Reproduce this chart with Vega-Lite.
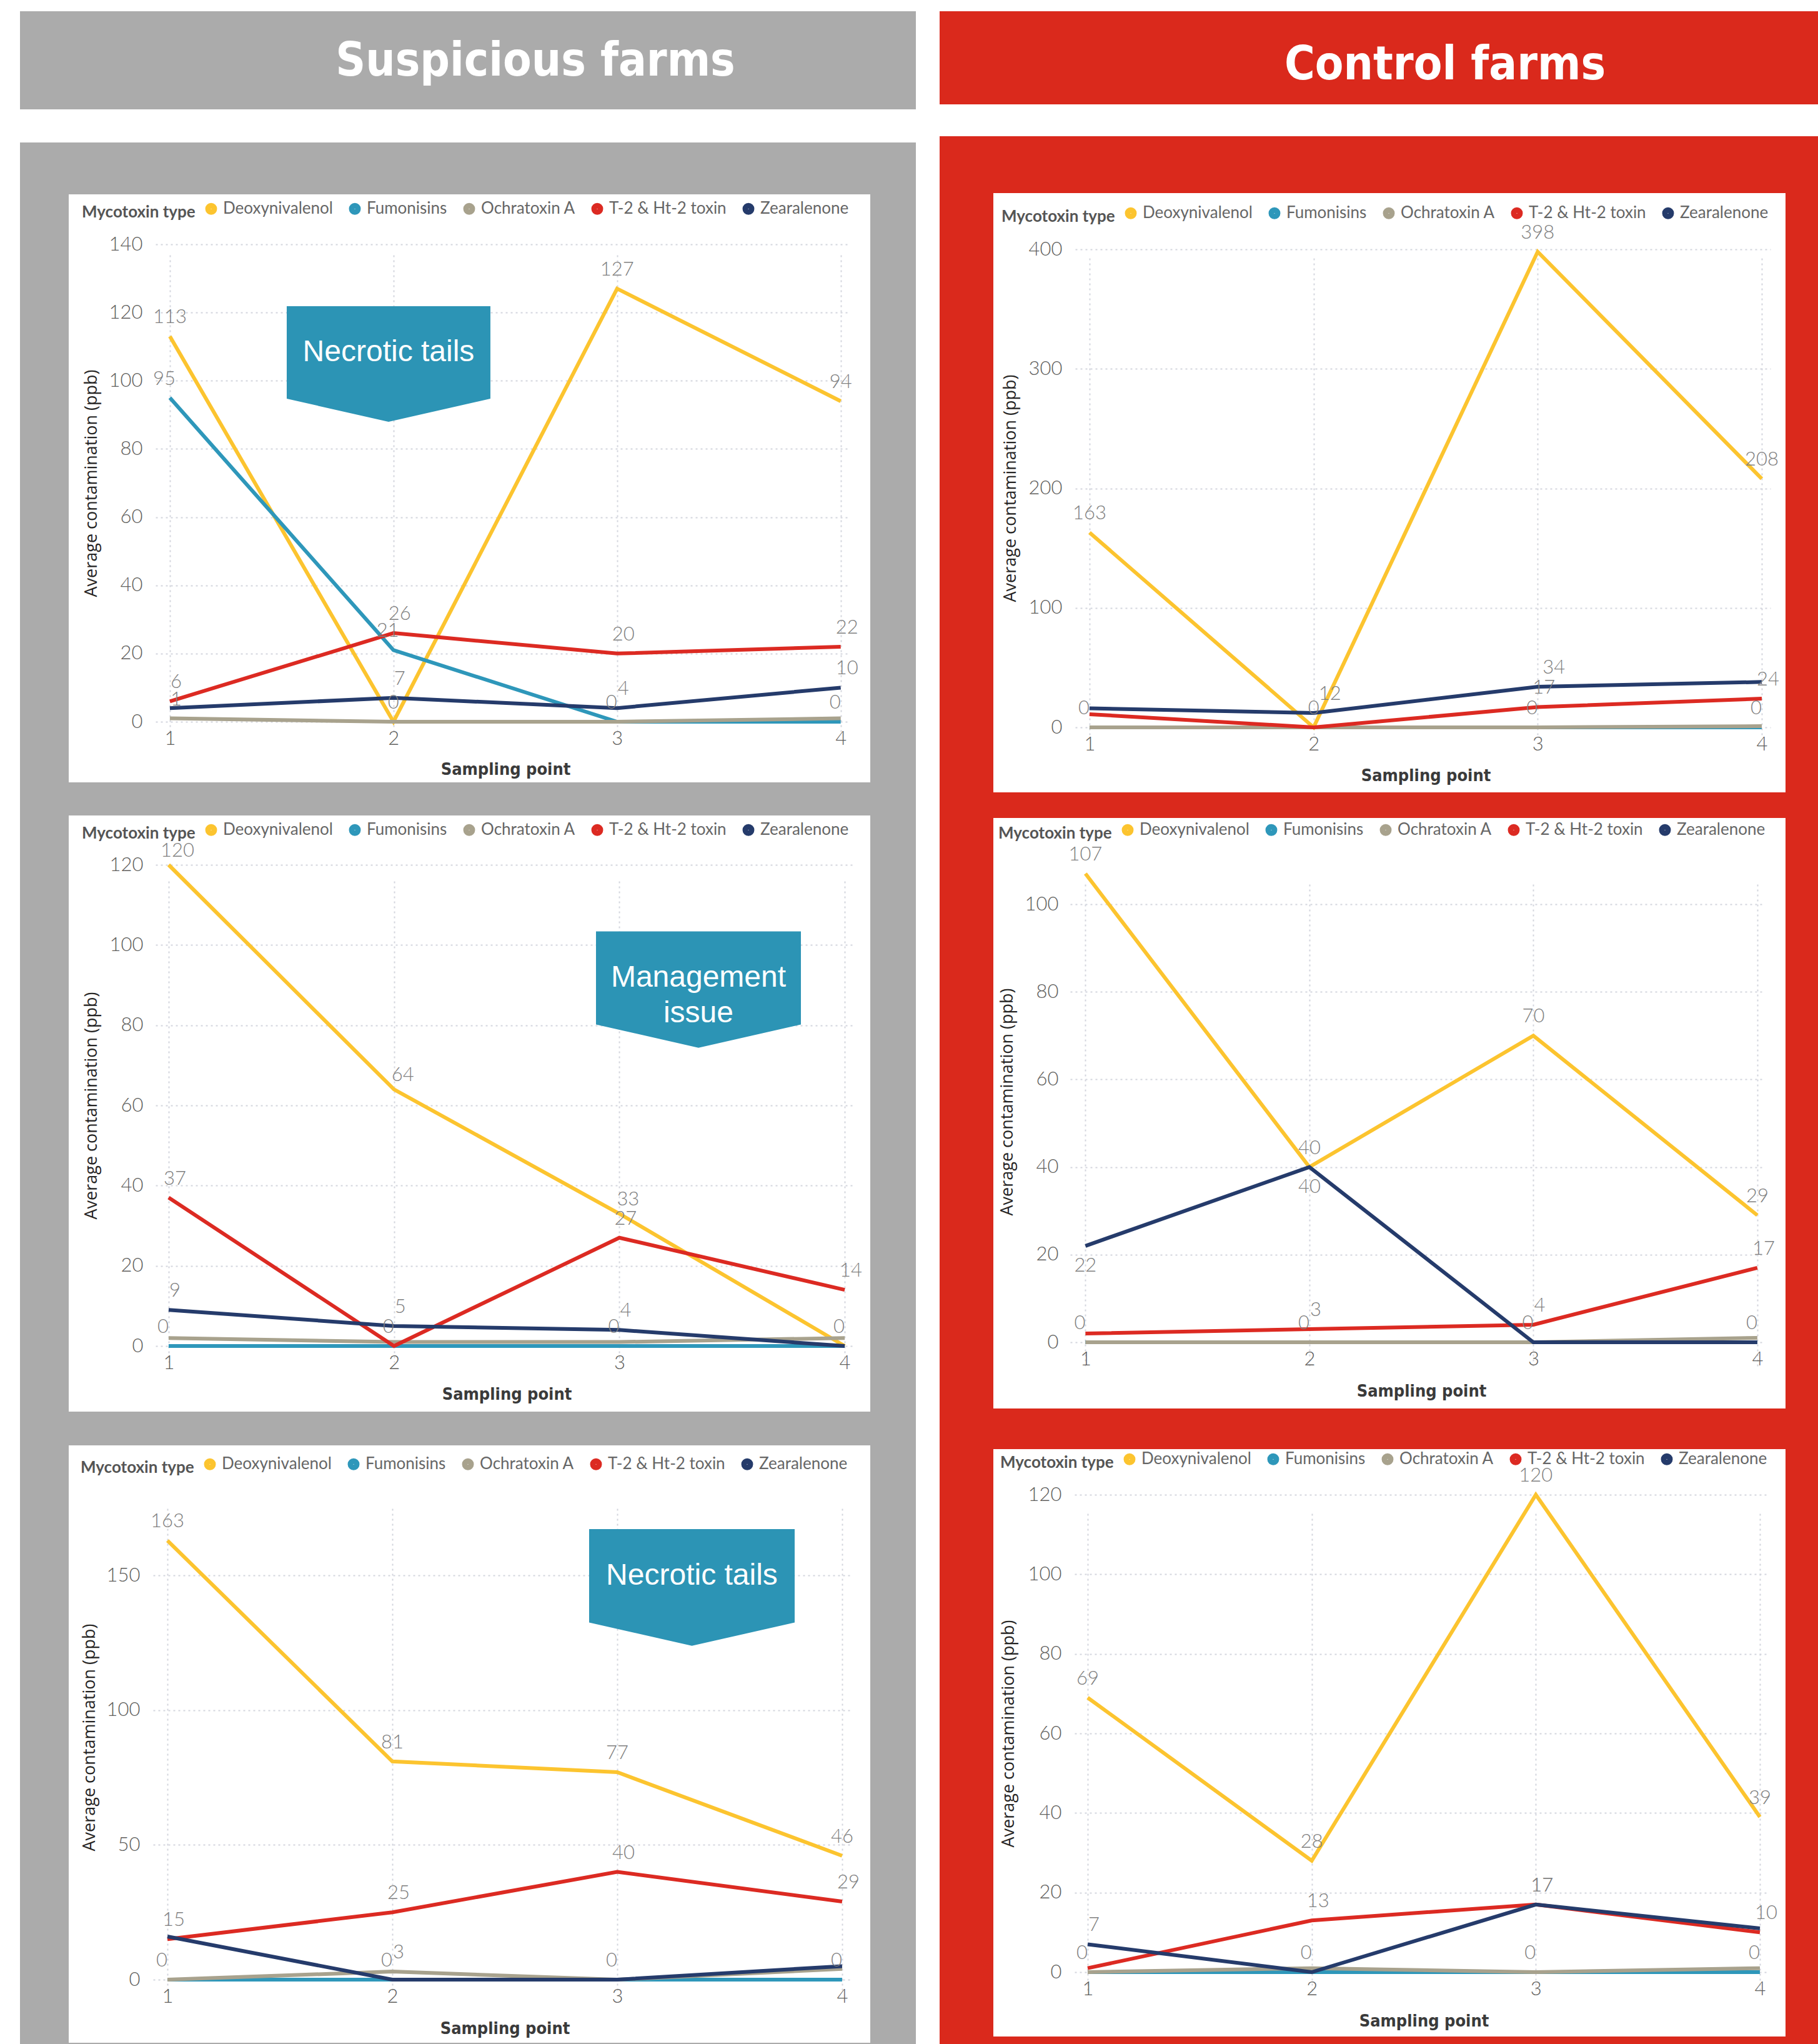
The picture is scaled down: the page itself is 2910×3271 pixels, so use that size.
{
"$schema": "https://vega.github.io/schema/vega-lite/v6.json",
"background": "white",
"padding": {"left": 32, "top": 18, "right": 0, "bottom": 0},
"datasets": {
"S1": [
{"p":1,"toxin":"Deoxynivalenol","ppb":113,"label":"113"},{"p":2,"toxin":"Deoxynivalenol","ppb":0,"label":"0"},{"p":3,"toxin":"Deoxynivalenol","ppb":127,"label":"127"},{"p":4,"toxin":"Deoxynivalenol","ppb":94,"label":"94"},
{"p":1,"toxin":"Fumonisins","ppb":95,"label":"95"},{"p":2,"toxin":"Fumonisins","ppb":21,"label":"21"},{"p":3,"toxin":"Fumonisins","ppb":0,"label":"0"},{"p":4,"toxin":"Fumonisins","ppb":0,"label":"0"},
{"p":1,"toxin":"Ochratoxin A","ppb":1,"label":"1"},{"p":2,"toxin":"Ochratoxin A","ppb":0},{"p":3,"toxin":"Ochratoxin A","ppb":0},{"p":4,"toxin":"Ochratoxin A","ppb":1},
{"p":1,"toxin":"T-2 & Ht-2 toxin","ppb":6,"label":"6"},{"p":2,"toxin":"T-2 & Ht-2 toxin","ppb":26,"label":"26"},{"p":3,"toxin":"T-2 & Ht-2 toxin","ppb":20,"label":"20"},{"p":4,"toxin":"T-2 & Ht-2 toxin","ppb":22,"label":"22"},
{"p":1,"toxin":"Zearalenone","ppb":4},{"p":2,"toxin":"Zearalenone","ppb":7,"label":"7"},{"p":3,"toxin":"Zearalenone","ppb":4,"label":"4"},{"p":4,"toxin":"Zearalenone","ppb":10,"label":"10"}
],
"S2": [
{"p":1,"toxin":"Deoxynivalenol","ppb":120,"label":"120"},{"p":2,"toxin":"Deoxynivalenol","ppb":64,"label":"64"},{"p":3,"toxin":"Deoxynivalenol","ppb":33,"label":"33"},{"p":4,"toxin":"Deoxynivalenol","ppb":0},
{"p":1,"toxin":"Fumonisins","ppb":0,"label":"0"},{"p":2,"toxin":"Fumonisins","ppb":0,"label":"0"},{"p":3,"toxin":"Fumonisins","ppb":0,"label":"0"},{"p":4,"toxin":"Fumonisins","ppb":0,"label":"0"},
{"p":1,"toxin":"Ochratoxin A","ppb":2},{"p":2,"toxin":"Ochratoxin A","ppb":1},{"p":3,"toxin":"Ochratoxin A","ppb":1},{"p":4,"toxin":"Ochratoxin A","ppb":2},
{"p":1,"toxin":"T-2 & Ht-2 toxin","ppb":37,"label":"37"},{"p":2,"toxin":"T-2 & Ht-2 toxin","ppb":0},{"p":3,"toxin":"T-2 & Ht-2 toxin","ppb":27,"label":"27"},{"p":4,"toxin":"T-2 & Ht-2 toxin","ppb":14,"label":"14"},
{"p":1,"toxin":"Zearalenone","ppb":9,"label":"9"},{"p":2,"toxin":"Zearalenone","ppb":5,"label":"5"},{"p":3,"toxin":"Zearalenone","ppb":4,"label":"4"},{"p":4,"toxin":"Zearalenone","ppb":0}
],
"S3": [
{"p":1,"toxin":"Deoxynivalenol","ppb":163,"label":"163"},{"p":2,"toxin":"Deoxynivalenol","ppb":81,"label":"81"},{"p":3,"toxin":"Deoxynivalenol","ppb":77,"label":"77"},{"p":4,"toxin":"Deoxynivalenol","ppb":46,"label":"46"},
{"p":1,"toxin":"Fumonisins","ppb":0,"label":"0"},{"p":2,"toxin":"Fumonisins","ppb":0,"label":"0"},{"p":3,"toxin":"Fumonisins","ppb":0,"label":"0"},{"p":4,"toxin":"Fumonisins","ppb":0,"label":"0"},
{"p":1,"toxin":"Ochratoxin A","ppb":0},{"p":2,"toxin":"Ochratoxin A","ppb":3,"label":"3"},{"p":3,"toxin":"Ochratoxin A","ppb":0},{"p":4,"toxin":"Ochratoxin A","ppb":4},
{"p":1,"toxin":"T-2 & Ht-2 toxin","ppb":15,"label":"15"},{"p":2,"toxin":"T-2 & Ht-2 toxin","ppb":25,"label":"25"},{"p":3,"toxin":"T-2 & Ht-2 toxin","ppb":40,"label":"40"},{"p":4,"toxin":"T-2 & Ht-2 toxin","ppb":29,"label":"29"},
{"p":1,"toxin":"Zearalenone","ppb":16},{"p":2,"toxin":"Zearalenone","ppb":0},{"p":3,"toxin":"Zearalenone","ppb":0},{"p":4,"toxin":"Zearalenone","ppb":5}
],
"C1": [
{"p":1,"toxin":"Deoxynivalenol","ppb":163,"label":"163"},{"p":2,"toxin":"Deoxynivalenol","ppb":0,"label":"0"},{"p":3,"toxin":"Deoxynivalenol","ppb":398,"label":"398"},{"p":4,"toxin":"Deoxynivalenol","ppb":208,"label":"208"},
{"p":1,"toxin":"Fumonisins","ppb":0,"label":"0"},{"p":2,"toxin":"Fumonisins","ppb":0},{"p":3,"toxin":"Fumonisins","ppb":0,"label":"0"},{"p":4,"toxin":"Fumonisins","ppb":0,"label":"0"},
{"p":1,"toxin":"Ochratoxin A","ppb":0},{"p":2,"toxin":"Ochratoxin A","ppb":0},{"p":3,"toxin":"Ochratoxin A","ppb":0},{"p":4,"toxin":"Ochratoxin A","ppb":1},
{"p":1,"toxin":"T-2 & Ht-2 toxin","ppb":11},{"p":2,"toxin":"T-2 & Ht-2 toxin","ppb":0},{"p":3,"toxin":"T-2 & Ht-2 toxin","ppb":17,"label":"17"},{"p":4,"toxin":"T-2 & Ht-2 toxin","ppb":24,"label":"24"},
{"p":1,"toxin":"Zearalenone","ppb":16},{"p":2,"toxin":"Zearalenone","ppb":12,"label":"12"},{"p":3,"toxin":"Zearalenone","ppb":34,"label":"34"},{"p":4,"toxin":"Zearalenone","ppb":38}
],
"C2": [
{"p":1,"toxin":"Deoxynivalenol","ppb":107,"label":"107"},{"p":2,"toxin":"Deoxynivalenol","ppb":40,"label":"40"},{"p":3,"toxin":"Deoxynivalenol","ppb":70,"label":"70"},{"p":4,"toxin":"Deoxynivalenol","ppb":29,"label":"29"},
{"p":1,"toxin":"Fumonisins","ppb":0,"label":"0"},{"p":2,"toxin":"Fumonisins","ppb":0,"label":"0"},{"p":3,"toxin":"Fumonisins","ppb":0,"label":"0"},{"p":4,"toxin":"Fumonisins","ppb":0,"label":"0"},
{"p":1,"toxin":"Ochratoxin A","ppb":0},{"p":2,"toxin":"Ochratoxin A","ppb":0},{"p":3,"toxin":"Ochratoxin A","ppb":0},{"p":4,"toxin":"Ochratoxin A","ppb":1},
{"p":1,"toxin":"T-2 & Ht-2 toxin","ppb":2},{"p":2,"toxin":"T-2 & Ht-2 toxin","ppb":3,"label":"3"},{"p":3,"toxin":"T-2 & Ht-2 toxin","ppb":4,"label":"4"},{"p":4,"toxin":"T-2 & Ht-2 toxin","ppb":17,"label":"17"},
{"p":1,"toxin":"Zearalenone","ppb":22,"label":"22"},{"p":2,"toxin":"Zearalenone","ppb":40,"label":"40"},{"p":3,"toxin":"Zearalenone","ppb":0},{"p":4,"toxin":"Zearalenone","ppb":0}
],
"C3": [
{"p":1,"toxin":"Deoxynivalenol","ppb":69,"label":"69"},{"p":2,"toxin":"Deoxynivalenol","ppb":28,"label":"28"},{"p":3,"toxin":"Deoxynivalenol","ppb":120,"label":"120"},{"p":4,"toxin":"Deoxynivalenol","ppb":39,"label":"39"},
{"p":1,"toxin":"Fumonisins","ppb":0,"label":"0"},{"p":2,"toxin":"Fumonisins","ppb":0,"label":"0"},{"p":3,"toxin":"Fumonisins","ppb":0,"label":"0"},{"p":4,"toxin":"Fumonisins","ppb":0,"label":"0"},
{"p":1,"toxin":"Ochratoxin A","ppb":0},{"p":2,"toxin":"Ochratoxin A","ppb":1},{"p":3,"toxin":"Ochratoxin A","ppb":0},{"p":4,"toxin":"Ochratoxin A","ppb":1},
{"p":1,"toxin":"T-2 & Ht-2 toxin","ppb":1},{"p":2,"toxin":"T-2 & Ht-2 toxin","ppb":13,"label":"13"},{"p":3,"toxin":"T-2 & Ht-2 toxin","ppb":17,"label":"17"},{"p":4,"toxin":"T-2 & Ht-2 toxin","ppb":10,"label":"10"},
{"p":1,"toxin":"Zearalenone","ppb":7,"label":"7"},{"p":2,"toxin":"Zearalenone","ppb":0},{"p":3,"toxin":"Zearalenone","ppb":17,"label":"17"},{"p":4,"toxin":"Zearalenone","ppb":11}
]
},
"spacing": 38,
"resolve": {"scale": {"color": "independent"}, "legend": {"color": "independent"}},
"hconcat": [
{
"spacing": 0,
"resolve": {"scale": {"color": "independent"}, "legend": {"color": "independent"}},
"vconcat": [
{"width": 1434, "height": 157, "view": {"fill": "#ABABAB", "stroke": null},
 "data": {"values": [{"title": "Suspicious farms"}]},
 "mark": {"type": "text", "font": "Liberation Sans Narrow, Arial Narrow, DejaVu Sans Condensed, sans-serif", "fontWeight": "bold", "fontSize": 74, "color": "white", "dx": 108, "dy": 2, "baseline": "middle"},
 "encoding": {"text": {"field": "title"}}},
{"width": 1434, "height": 53, "view": {"fill": "white", "stroke": null}, "data": {"values": []}, "mark": "rect"},
{"width": 1434, "height": 83, "view": {"fill": "#ABABAB", "stroke": null}, "data": {"values": []}, "mark": "rect"},
{"spacing": 0, "resolve": {"scale": {"color": "independent"}, "legend": {"color": "independent"}},
 "hconcat": [
 {"width": 78, "height": 941, "view": {"fill": "#ABABAB", "stroke": null}, "data": {"values": []}, "mark": "rect"},
 {"width": 1283, "height": 941, "view": {"fill": "white", "stroke": null}, "data": {"name": "S1"},
  "layer": [
  {"mark": {"type": "line", "strokeWidth": 6},
   "encoding": {
    "x": {"field": "p", "type": "quantitative", "title": "Sampling point", "scale": {"domain": [0.936, 4.04], "range": [139, 1250], "nice": false, "zero": false}, "axis": {"values": [1,2,3,4], "format": "d", "offset": -97, "titleX": 699, "titleY": 76}},
    "y": {"field": "ppb", "type": "quantitative", "title": "Average contamination (ppb)", "scale": {"domain": [0, 140], "range": [844, 80], "nice": false}, "axis": {"values": [0,20,40,60,80,100,120,140], "format": "d", "offset": -126, "titleX": -90, "titleY": 462}},
    "color": {"field": "toxin", "type": "nominal", "title": "Mycotoxin type", "scale": {"domain": ["Deoxynivalenol","Fumonisins","Ochratoxin A","T-2 & Ht-2 toxin","Zearalenone"], "range": ["#FCC42F","#2E97BA","#A8A28D","#DC2A22","#253B6B"]}, "legend": {"orient": "none", "legendX": 21, "legendY": 10, "encode": {"symbols": {"update": {"strokeWidth": {"value": 10}}}}}}
   }},
  {"transform": [{"filter": "datum.label != null && datum.toxin == 'Deoxynivalenol'"}],
   "mark": {"type": "text", "dy": -30, "baseline": "middle", "font": "Lato", "fontSize": 31, "fontWeight": 300, "color": "#7f7f7f"},
   "encoding": {"x": {"field": "p", "type": "quantitative"}, "y": {"field": "ppb", "type": "quantitative"}, "text": {"field": "label"}}},
  {"transform": [{"filter": "datum.label != null && datum.toxin == 'Fumonisins'"}],
   "mark": {"type": "text", "dy": -30, "dx": -9, "baseline": "middle", "font": "Lato", "fontSize": 31, "fontWeight": 300, "color": "#7f7f7f"},
   "encoding": {"x": {"field": "p", "type": "quantitative"}, "y": {"field": "ppb", "type": "quantitative"}, "text": {"field": "label"}}},
  {"transform": [{"filter": "datum.label != null && datum.toxin != 'Fumonisins' && datum.toxin != 'Deoxynivalenol'"}],
   "mark": {"type": "text", "dy": -30, "dx": 10, "baseline": "middle", "font": "Lato", "fontSize": 31, "fontWeight": 300, "color": "#7f7f7f"},
   "encoding": {"x": {"field": "p", "type": "quantitative"}, "y": {"field": "ppb", "type": "quantitative"}, "text": {"field": "label"}}},
  {"data": {"values": [{"note": "Necrotic tails"}]},
   "mark": {"type": "point", "shape": "M-1,-0.454L1,-0.454L1,0.454L0,0.681L-1,0.454Z", "size": 106276, "filled": true, "color": "#2C94B5", "opacity": 1, "strokeWidth": 0},
   "encoding": {"x": {"datum": 1.978}, "y": {"datum": 108.3}}},
  {"data": {"values": [{"note": "Necrotic tails"}]},
   "mark": {"type": "text", "color": "white", "font": "Liberation Sans, Arial, sans-serif", "fontSize": 48, "baseline": "middle"},
   "encoding": {"x": {"datum": 1.978}, "y": {"datum": 108.3}, "text": {"field": "note"}}}
  ]},
 {"width": 73, "height": 941, "view": {"fill": "#ABABAB", "stroke": null}, "data": {"values": []}, "mark": "rect"}
 ]},
{"width": 1434, "height": 53, "view": {"fill": "#ABABAB", "stroke": null}, "data": {"values": []}, "mark": "rect"},
{"spacing": 0, "resolve": {"scale": {"color": "independent"}, "legend": {"color": "independent"}},
 "hconcat": [
 {"width": 78, "height": 954, "view": {"fill": "#ABABAB", "stroke": null}, "data": {"values": []}, "mark": "rect"},
 {"width": 1283, "height": 954, "view": {"fill": "white", "stroke": null}, "data": {"name": "S2"},
  "layer": [
  {"mark": {"type": "line", "strokeWidth": 6},
   "encoding": {
    "x": {"field": "p", "type": "quantitative", "title": "Sampling point", "scale": {"domain": [0.942, 4.033], "range": [139, 1254], "nice": false, "zero": false}, "axis": {"values": [1,2,3,4], "format": "d", "offset": -105, "titleX": 701, "titleY": 77}},
    "y": {"field": "ppb", "type": "quantitative", "title": "Average contamination (ppb)", "scale": {"domain": [0, 120], "range": [849, 79], "nice": false}, "axis": {"values": [0,20,40,60,80,100,120], "format": "d", "offset": -127, "titleX": -91, "titleY": 464}},
    "color": {"field": "toxin", "type": "nominal", "title": "Mycotoxin type", "scale": {"domain": ["Deoxynivalenol","Fumonisins","Ochratoxin A","T-2 & Ht-2 toxin","Zearalenone"], "range": ["#FCC42F","#2E97BA","#A8A28D","#DC2A22","#253B6B"]}, "legend": {"orient": "none", "legendX": 21, "legendY": 10, "encode": {"symbols": {"update": {"strokeWidth": {"value": 10}}}}}}
   }},
  {"transform": [{"filter": "datum.label != null && datum.toxin == 'Deoxynivalenol'"}],
   "mark": {"type": "text", "dy": -22, "dx": 14, "baseline": "middle", "font": "Lato", "fontSize": 31, "fontWeight": 300, "color": "#7f7f7f"},
   "encoding": {"x": {"field": "p", "type": "quantitative"}, "y": {"field": "ppb", "type": "quantitative"}, "text": {"field": "label"}}},
  {"transform": [{"filter": "datum.label != null && datum.toxin == 'Fumonisins'"}],
   "mark": {"type": "text", "dy": -30, "dx": -9, "baseline": "middle", "font": "Lato", "fontSize": 31, "fontWeight": 300, "color": "#7f7f7f"},
   "encoding": {"x": {"field": "p", "type": "quantitative"}, "y": {"field": "ppb", "type": "quantitative"}, "text": {"field": "label"}}},
  {"transform": [{"filter": "datum.label != null && datum.toxin != 'Fumonisins' && datum.toxin != 'Deoxynivalenol'"}],
   "mark": {"type": "text", "dy": -30, "dx": 10, "baseline": "middle", "font": "Lato", "fontSize": 31, "fontWeight": 300, "color": "#7f7f7f"},
   "encoding": {"x": {"field": "p", "type": "quantitative"}, "y": {"field": "ppb", "type": "quantitative"}, "text": {"field": "label"}}},
  {"data": {"values": [{"note": "Management\nissue"}]},
   "mark": {"type": "point", "shape": "M-1,-0.454L1,-0.454L1,0.454L0,0.681L-1,0.454Z", "size": 107584, "filled": true, "color": "#2C94B5", "opacity": 1, "strokeWidth": 0},
   "encoding": {"x": {"datum": 3.351}, "y": {"datum": 91.8}}},
  {"data": {"values": [{"note": "Management\nissue"}]},
   "mark": {"type": "text", "color": "white", "font": "Liberation Sans, Arial, sans-serif", "fontSize": 48, "baseline": "middle", "lineBreak": "\n", "lineHeight": 57},
   "encoding": {"x": {"datum": 3.351}, "y": {"datum": 91.8}, "text": {"field": "note"}}}
  ]},
 {"width": 73, "height": 954, "view": {"fill": "#ABABAB", "stroke": null}, "data": {"values": []}, "mark": "rect"}
 ]},
{"width": 1434, "height": 54, "view": {"fill": "#ABABAB", "stroke": null}, "data": {"values": []}, "mark": "rect"},
{"spacing": 0, "resolve": {"scale": {"color": "independent"}, "legend": {"color": "independent"}},
 "hconcat": [
 {"width": 78, "height": 956, "view": {"fill": "#ABABAB", "stroke": null}, "data": {"values": []}, "mark": "rect"},
 {"width": 1283, "height": 956, "view": {"fill": "white", "stroke": null}, "data": {"name": "S3"},
  "layer": [
  {"mark": {"type": "line", "strokeWidth": 6},
   "encoding": {
    "x": {"field": "p", "type": "quantitative", "title": "Sampling point", "scale": {"domain": [0.936, 4.046], "range": [135, 1254.5], "nice": false, "zero": false}, "axis": {"values": [1,2,3,4], "format": "d", "offset": -101, "titleX": 698, "titleY": 78}},
    "y": {"field": "ppb", "type": "quantitative", "title": "Average contamination (ppb)", "scale": {"domain": [0, 180], "range": [855, 79], "nice": false}, "axis": {"values": [0,50,100,150], "format": "d", "offset": -122, "titleX": -89, "titleY": 467}},
    "color": {"field": "toxin", "type": "nominal", "title": "Mycotoxin type", "scale": {"domain": ["Deoxynivalenol","Fumonisins","Ochratoxin A","T-2 & Ht-2 toxin","Zearalenone"], "range": ["#FCC42F","#2E97BA","#A8A28D","#DC2A22","#253B6B"]}, "legend": {"orient": "none", "legendX": 19, "legendY": 17, "encode": {"symbols": {"update": {"strokeWidth": {"value": 10}}}}}}
   }},
  {"transform": [{"filter": "datum.label != null && datum.toxin == 'Deoxynivalenol'"}],
   "mark": {"type": "text", "dy": -30, "baseline": "middle", "font": "Lato", "fontSize": 31, "fontWeight": 300, "color": "#7f7f7f"},
   "encoding": {"x": {"field": "p", "type": "quantitative"}, "y": {"field": "ppb", "type": "quantitative"}, "text": {"field": "label"}}},
  {"transform": [{"filter": "datum.label != null && datum.toxin == 'Fumonisins'"}],
   "mark": {"type": "text", "dy": -30, "dx": -9, "baseline": "middle", "font": "Lato", "fontSize": 31, "fontWeight": 300, "color": "#7f7f7f"},
   "encoding": {"x": {"field": "p", "type": "quantitative"}, "y": {"field": "ppb", "type": "quantitative"}, "text": {"field": "label"}}},
  {"transform": [{"filter": "datum.label != null && datum.toxin != 'Fumonisins' && datum.toxin != 'Deoxynivalenol'"}],
   "mark": {"type": "text", "dy": -30, "dx": 10, "baseline": "middle", "font": "Lato", "fontSize": 31, "fontWeight": 300, "color": "#7f7f7f"},
   "encoding": {"x": {"field": "p", "type": "quantitative"}, "y": {"field": "ppb", "type": "quantitative"}, "text": {"field": "label"}}},
  {"data": {"values": [{"note": "Necrotic tails"}]},
   "mark": {"type": "point", "shape": "M-1,-0.454L1,-0.454L1,0.454L0,0.681L-1,0.454Z", "size": 108241, "filled": true, "color": "#2C94B5", "opacity": 1, "strokeWidth": 0},
   "encoding": {"x": {"datum": 3.332}, "y": {"datum": 149.9}}},
  {"data": {"values": [{"note": "Necrotic tails"}]},
   "mark": {"type": "text", "color": "white", "font": "Liberation Sans, Arial, sans-serif", "fontSize": 48, "baseline": "middle"},
   "encoding": {"x": {"datum": 3.332}, "y": {"datum": 149.9}, "text": {"field": "note"}}}
  ]},
 {"width": 73, "height": 956, "view": {"fill": "#ABABAB", "stroke": null}, "data": {"values": []}, "mark": "rect"}
 ]},
{"width": 1434, "height": 2, "view": {"fill": "#ABABAB", "stroke": null}, "data": {"values": []}, "mark": "rect"}
]
},
{
"spacing": 0,
"resolve": {"scale": {"color": "independent"}, "legend": {"color": "independent"}},
"vconcat": [
{"width": 1406, "height": 149, "view": {"fill": "#DA291C", "stroke": null},
 "data": {"values": [{"title": "Control farms"}]},
 "mark": {"type": "text", "font": "Liberation Sans Narrow, Arial Narrow, DejaVu Sans Condensed, sans-serif", "fontWeight": "bold", "fontSize": 74, "color": "white", "dx": 106, "dy": 12, "baseline": "middle"},
 "encoding": {"text": {"field": "title"}}},
{"width": 1406, "height": 51, "view": {"fill": "white", "stroke": null}, "data": {"values": []}, "mark": "rect"},
{"width": 1406, "height": 91, "view": {"fill": "#DA291C", "stroke": null}, "data": {"values": []}, "mark": "rect"},
{"spacing": 0, "resolve": {"scale": {"color": "independent"}, "legend": {"color": "independent"}},
 "hconcat": [
 {"width": 86, "height": 959, "view": {"fill": "#DA291C", "stroke": null}, "data": {"values": []}, "mark": "rect"},
 {"width": 1268, "height": 959, "view": {"fill": "white", "stroke": null}, "data": {"name": "C1"},
  "layer": [
  {"mark": {"type": "line", "strokeWidth": 6},
   "encoding": {
    "x": {"field": "p", "type": "quantitative", "title": "Sampling point", "scale": {"domain": [0.936, 4.039], "range": [131, 1244], "nice": false, "zero": false}, "axis": {"values": [1,2,3,4], "format": "d", "offset": -104, "titleX": 692, "titleY": 77}},
    "y": {"field": "ppb", "type": "quantitative", "title": "Average contamination (ppb)", "scale": {"domain": [0, 400], "range": [855, 90], "nice": false}, "axis": {"values": [0,100,200,300,400], "format": "d", "offset": -118, "titleX": -91, "titleY": 472}},
    "color": {"field": "toxin", "type": "nominal", "title": "Mycotoxin type", "scale": {"domain": ["Deoxynivalenol","Fumonisins","Ochratoxin A","T-2 & Ht-2 toxin","Zearalenone"], "range": ["#FCC42F","#2E97BA","#A8A28D","#DC2A22","#253B6B"]}, "legend": {"orient": "none", "legendX": 13, "legendY": 19, "encode": {"symbols": {"update": {"strokeWidth": {"value": 10}}}}}}
   }},
  {"transform": [{"filter": "datum.label != null && datum.toxin == 'Deoxynivalenol'"}],
   "mark": {"type": "text", "dy": -30, "baseline": "middle", "font": "Lato", "fontSize": 31, "fontWeight": 300, "color": "#7f7f7f"},
   "encoding": {"x": {"field": "p", "type": "quantitative"}, "y": {"field": "ppb", "type": "quantitative"}, "text": {"field": "label"}}},
  {"transform": [{"filter": "datum.label != null && datum.toxin == 'Fumonisins'"}],
   "mark": {"type": "text", "dy": -30, "dx": -9, "baseline": "middle", "font": "Lato", "fontSize": 31, "fontWeight": 300, "color": "#7f7f7f"},
   "encoding": {"x": {"field": "p", "type": "quantitative"}, "y": {"field": "ppb", "type": "quantitative"}, "text": {"field": "label"}}},
  {"transform": [{"filter": "datum.label != null && datum.toxin == 'T-2 & Ht-2 toxin'"}],
   "mark": {"type": "text", "dy": -30, "dx": 10, "baseline": "middle", "font": "Lato", "fontSize": 31, "fontWeight": 300, "color": "#7f7f7f"},
   "encoding": {"x": {"field": "p", "type": "quantitative"}, "y": {"field": "ppb", "type": "quantitative"}, "text": {"field": "label"}}},
  {"transform": [{"filter": "datum.label != null && datum.toxin == 'Zearalenone'"}],
   "mark": {"type": "text", "dy": -30, "dx": 26, "baseline": "middle", "font": "Lato", "fontSize": 31, "fontWeight": 300, "color": "#7f7f7f"},
   "encoding": {"x": {"field": "p", "type": "quantitative"}, "y": {"field": "ppb", "type": "quantitative"}, "text": {"field": "label"}}}
  ]},
 {"width": 52, "height": 959, "view": {"fill": "#DA291C", "stroke": null}, "data": {"values": []}, "mark": "rect"}
 ]},
{"width": 1406, "height": 41, "view": {"fill": "#DA291C", "stroke": null}, "data": {"values": []}, "mark": "rect"},
{"spacing": 0, "resolve": {"scale": {"color": "independent"}, "legend": {"color": "independent"}},
 "hconcat": [
 {"width": 86, "height": 945, "view": {"fill": "#DA291C", "stroke": null}, "data": {"values": []}, "mark": "rect"},
 {"width": 1268, "height": 945, "view": {"fill": "white", "stroke": null}, "data": {"name": "C2"},
  "layer": [
  {"mark": {"type": "line", "strokeWidth": 6},
   "encoding": {
    "x": {"field": "p", "type": "quantitative", "title": "Sampling point", "scale": {"domain": [0.932, 4.031], "range": [123, 1234], "nice": false, "zero": false}, "axis": {"values": [1,2,3,4], "format": "d", "offset": -106, "titleX": 685, "titleY": 78}},
    "y": {"field": "ppb", "type": "quantitative", "title": "Average contamination (ppb)", "scale": {"domain": [0, 110], "range": [839, 68], "nice": false}, "axis": {"values": [0,20,40,60,80,100], "format": "d", "offset": -112, "titleX": -90, "titleY": 454}},
    "color": {"field": "toxin", "type": "nominal", "title": "Mycotoxin type", "scale": {"domain": ["Deoxynivalenol","Fumonisins","Ochratoxin A","T-2 & Ht-2 toxin","Zearalenone"], "range": ["#FCC42F","#2E97BA","#A8A28D","#DC2A22","#253B6B"]}, "legend": {"orient": "none", "legendX": 8, "legendY": 6, "encode": {"symbols": {"update": {"strokeWidth": {"value": 10}}}}}}
   }},
  {"transform": [{"filter": "datum.label != null && datum.toxin == 'Deoxynivalenol'"}],
   "mark": {"type": "text", "dy": -30, "baseline": "middle", "font": "Lato", "fontSize": 31, "fontWeight": 300, "color": "#7f7f7f"},
   "encoding": {"x": {"field": "p", "type": "quantitative"}, "y": {"field": "ppb", "type": "quantitative"}, "text": {"field": "label"}}},
  {"transform": [{"filter": "datum.label != null && datum.toxin == 'Fumonisins'"}],
   "mark": {"type": "text", "dy": -30, "dx": -9, "baseline": "middle", "font": "Lato", "fontSize": 31, "fontWeight": 300, "color": "#7f7f7f"},
   "encoding": {"x": {"field": "p", "type": "quantitative"}, "y": {"field": "ppb", "type": "quantitative"}, "text": {"field": "label"}}},
  {"transform": [{"filter": "datum.label != null && datum.toxin == 'T-2 & Ht-2 toxin'"}],
   "mark": {"type": "text", "dy": -30, "dx": 10, "baseline": "middle", "font": "Lato", "fontSize": 31, "fontWeight": 300, "color": "#7f7f7f"},
   "encoding": {"x": {"field": "p", "type": "quantitative"}, "y": {"field": "ppb", "type": "quantitative"}, "text": {"field": "label"}}},
  {"transform": [{"filter": "datum.label != null && datum.toxin == 'Zearalenone'"}],
   "mark": {"type": "text", "dy": 32, "baseline": "middle", "font": "Lato", "fontSize": 31, "fontWeight": 300, "color": "#7f7f7f"},
   "encoding": {"x": {"field": "p", "type": "quantitative"}, "y": {"field": "ppb", "type": "quantitative"}, "text": {"field": "label"}}}
  ]},
 {"width": 52, "height": 945, "view": {"fill": "#DA291C", "stroke": null}, "data": {"values": []}, "mark": "rect"}
 ]},
{"width": 1406, "height": 65, "view": {"fill": "#DA291C", "stroke": null}, "data": {"values": []}, "mark": "rect"},
{"spacing": 0, "resolve": {"scale": {"color": "independent"}, "legend": {"color": "independent"}},
 "hconcat": [
 {"width": 86, "height": 940, "view": {"fill": "#DA291C", "stroke": null}, "data": {"values": []}, "mark": "rect"},
 {"width": 1268, "height": 940, "view": {"fill": "white", "stroke": null}, "data": {"name": "C3"},
  "layer": [
  {"mark": {"type": "line", "strokeWidth": 6},
   "encoding": {
    "x": {"field": "p", "type": "quantitative", "title": "Sampling point", "scale": {"domain": [0.9415, 4.039], "range": [130, 1241], "nice": false, "zero": false}, "axis": {"values": [1,2,3,4], "format": "d", "offset": -103, "titleX": 689, "titleY": 78}},
    "y": {"field": "ppb", "type": "quantitative", "title": "Average contamination (ppb)", "scale": {"domain": [0, 120], "range": [837, 73], "nice": false}, "axis": {"values": [0,20,40,60,80,100,120], "format": "d", "offset": -117, "titleX": -93, "titleY": 455}},
    "color": {"field": "toxin", "type": "nominal", "title": "Mycotoxin type", "scale": {"domain": ["Deoxynivalenol","Fumonisins","Ochratoxin A","T-2 & Ht-2 toxin","Zearalenone"], "range": ["#FCC42F","#2E97BA","#A8A28D","#DC2A22","#253B6B"]}, "legend": {"orient": "none", "legendX": 11, "legendY": 3, "encode": {"symbols": {"update": {"strokeWidth": {"value": 10}}}}}}
   }},
  {"transform": [{"filter": "datum.label != null && datum.toxin == 'Deoxynivalenol'"}],
   "mark": {"type": "text", "dy": -30, "baseline": "middle", "font": "Lato", "fontSize": 31, "fontWeight": 300, "color": "#7f7f7f"},
   "encoding": {"x": {"field": "p", "type": "quantitative"}, "y": {"field": "ppb", "type": "quantitative"}, "text": {"field": "label"}}},
  {"transform": [{"filter": "datum.label != null && datum.toxin == 'Fumonisins'"}],
   "mark": {"type": "text", "dy": -30, "dx": -9, "baseline": "middle", "font": "Lato", "fontSize": 31, "fontWeight": 300, "color": "#7f7f7f"},
   "encoding": {"x": {"field": "p", "type": "quantitative"}, "y": {"field": "ppb", "type": "quantitative"}, "text": {"field": "label"}}},
  {"transform": [{"filter": "datum.label != null && datum.toxin != 'Fumonisins' && datum.toxin != 'Deoxynivalenol'"}],
   "mark": {"type": "text", "dy": -30, "dx": 10, "baseline": "middle", "font": "Lato", "fontSize": 31, "fontWeight": 300, "color": "#7f7f7f"},
   "encoding": {"x": {"field": "p", "type": "quantitative"}, "y": {"field": "ppb", "type": "quantitative"}, "text": {"field": "label"}}}
  ]},
 {"width": 52, "height": 940, "view": {"fill": "#DA291C", "stroke": null}, "data": {"values": []}, "mark": "rect"}
 ]},
{"width": 1406, "height": 12, "view": {"fill": "#DA291C", "stroke": null}, "data": {"values": []}, "mark": "rect"}
]
}
],
"config": {
 "view": {"stroke": null},
 "concat": {"spacing": 0},
 "axis": {"domain": false, "ticks": false, "grid": true, "gridColor": "#D3D5DD", "gridDash": [3, 5], "gridWidth": 2, "labelFont": "Lato", "labelFontSize": 31, "labelFontWeight": 300, "labelColor": "#605E5C", "labelPadding": 8},
 "axisX": {"labelPadding": 12, "titleFont": "Liberation Sans Narrow, Arial Narrow, DejaVu Sans Condensed, sans-serif", "titleFontSize": 27, "titleFontWeight": "bold", "titleColor": "#3A3A3A", "titleBaseline": "middle", "titleAlign": "center"},
 "axisY": {"titleFont": "Open Sans", "titleFontSize": 27, "titleFontWeight": "normal", "titleColor": "#252423", "titleBaseline": "middle", "titleAlign": "center", "titleAngle": 270},
 "legend": {"direction": "horizontal", "titleOrient": "left", "symbolType": "circle", "symbolSize": 80, "symbolStrokeWidth": 10, "labelFont": "Lato", "labelFontSize": 26, "labelColor": "#666666", "labelLimit": 0, "titleFont": "Lato", "titleFontSize": 26, "titleFontWeight": "bold", "titleColor": "#555555", "titleLimit": 0, "titlePadding": 12, "columnPadding": 10, "labelOffset": 6, "padding": 0}
}
}
